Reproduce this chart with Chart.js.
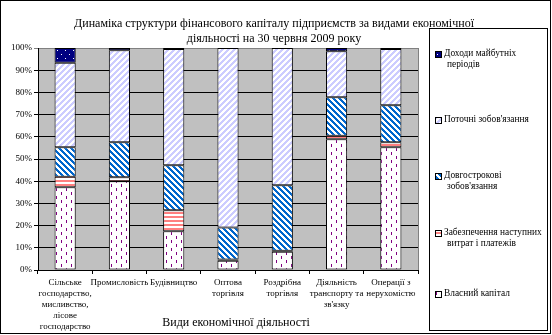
<!DOCTYPE html>
<html>
<head>
<meta charset="utf-8">
<title>Динаміка структури фінансового капіталу</title>
<script src="https://cdn.jsdelivr.net/npm/chart.js@4.4.0/dist/chart.umd.min.js"></script>
<style>
  html, body { margin: 0; padding: 0; background: #fff; }
  #wrap { width: 552px; height: 335px; position: relative; }
</style>
</head>
<body>
<div id="wrap"><canvas id="chart" width="552" height="335"></canvas></div>
<script>
// Дані (у відсотках від загального капіталу)
const categories = [
    ['Сільське', 'господарство,', 'мисливство,', 'лісове', 'господарство'],
    ['Промисловість'],
    ['Будівництво'],
    ['Оптова', 'торгівля'],
    ['Роздрібна', 'торгівля'],
    ['Діяльність', 'транспорту та', "зв'язку"],
    ['Операції з', 'нерухомістю']
];
const equity     = [37.3, 40.0, 17.4, 4.2, 8.2, 58.9, 55.3];
const provisions = [4.7, 1.8, 9.5, 0.5, 0.5, 1.6, 2.2];
const longTerm   = [13.3, 15.7, 20.3, 14.5, 29.5, 17.3, 16.7];
const current    = [38.1, 41.5, 52.3, 80.8, 61.8, 20.7, 25.3];
const deferred   = [6.6, 1.0, 0.5, 0, 0, 1.5, 0.5];
const yTicks     = [0, 10, 20, 30, 40, 50, 60, 70, 80, 90, 100];

const seriesNames = [
    'Власний капітал',
    'Забезпечення наступних витрат і платежів',
    'Довгострокові зобов\'язання',
    'Поточні зобов\'язання',
    'Доходи майбутніх періодів'
];

const SERIF = '"Liberation Serif", "Times New Roman", serif';

/**
 * Створює піксельний візерунок (як заливки в Excel)
 */
function makePattern(w, h, bg, fg, test) {
    const c = document.createElement('canvas');
    c.width = w;
    c.height = h;
    const g = c.getContext('2d');
    g.fillStyle = bg;
    g.fillRect(0, 0, w, h);
    g.fillStyle = fg;
    for (let y = 0; y < h; y++) {
        for (let x = 0; x < w; x++) {
            if (test(x, y)) g.fillRect(x, y, 1, 1);
        }
    }
    return document.getElementById('chart').getContext('2d').createPattern(c, 'repeat');
}

const fills = [
    makePattern(10, 8, '#fff', '#800080', (x, y) => (x === 1 && y < 3) || (x === 6 && y >= 4 && y < 7)),
    makePattern(4, 4, '#fff', '#FF8080', (x, y) => y < 2),
    makePattern(6, 6, '#fff', '#0066CC', (x, y) => ((x - y) % 6 + 6) % 6 < 3),
    makePattern(6, 6, '#fff', '#CCCCFF', (x, y) => (x + y) % 6 < 3),
    makePattern(8, 8, '#000080', '#fff', (x, y) => (x === 1 && y === 2) || (x === 5 && y === 6))
];

const values = [equity, provisions, longTerm, current, deferred];

const datasets = values.map((data, i) => ({
    label: seriesNames[i],
    data: data,
    backgroundColor: fills[i],
    borderColor: '#000',
    borderWidth: 1,
    borderSkipped: false,
    barPercentage: 0.39,
    categoryPercentage: 1
}));

// Малює фон, заголовок, легенду та підпис осі
const decorPlugin = {
    id: 'decor',
    beforeDraw(chart) {
        const ctx = chart.ctx;
        const a = chart.chartArea;
        ctx.save();
        ctx.fillStyle = '#fff';
        ctx.fillRect(0, 0, chart.width, chart.height);
        ctx.fillStyle = '#C0C0C0';
        ctx.fillRect(a.left, a.top, a.right - a.left, a.bottom - a.top);
        ctx.restore();
    },
    afterDraw(chart) {
        const ctx = chart.ctx;
        const a = chart.chartArea;
        ctx.save();

        // рамка області побудови справа
        ctx.strokeStyle = '#808080';
        ctx.lineWidth = 1;
        ctx.beginPath();
        ctx.moveTo(a.right + 0.5, a.top);
        ctx.lineTo(a.right + 0.5, a.bottom);
        ctx.stroke();

        // заголовок
        ctx.fillStyle = '#000';
        ctx.font = '12px ' + SERIF;
        ctx.textAlign = 'center';
        ctx.textBaseline = 'middle';
        ctx.fillText('Динаміка структури фінансового капіталу підприємств за видами економічної', 274, 24);
        ctx.fillText('діяльності на 30 червня 2009 року', 274, 39);

        // назва осі X
        ctx.font = '12px ' + SERIF;
        ctx.fillText('Види економічної діяльності', 236, 323);

        // легенда
        ctx.strokeStyle = '#000';
        ctx.strokeRect(429.5, 28.5, 118, 302);
        const legendRows = [
            { ds: 4, lines: ['Доходи майбутніх', 'періодів'], y: 54 },
            { ds: 3, lines: ['Поточні зобов\'язання'], y: 120 },
            { ds: 2, lines: ['Довгострокові', 'зобов\'язання'], y: 176 },
            { ds: 1, lines: ['Забезпечення наступних', 'витрат і платежів'], y: 233 },
            { ds: 0, lines: ['Власний капітал'], y: 294 }
        ];
        ctx.font = '9.4px ' + SERIF;
        ctx.textAlign = 'left';
        legendRows.forEach(row => {
            const d = chart.data.datasets[row.ds];
            ctx.fillStyle = d.backgroundColor;
            ctx.fillRect(435, row.y - 3, 7, 7);
            ctx.strokeStyle = '#000';
            ctx.strokeRect(435.5, row.y - 3 + 0.5, 6, 6);
            ctx.fillStyle = '#000';
            row.lines.forEach((t, k) => {
                ctx.fillText(t, k === 0 ? 444 : 447, row.y + k * 11);
            });
        });

        // зовнішня рамка
        ctx.strokeStyle = '#000';
        ctx.strokeRect(0.5, 0.5, chart.width - 2, chart.height - 2);
        ctx.restore();
    }
};

new Chart(document.getElementById('chart'), {
    type: 'bar',
    data: {
        labels: categories,
        datasets: datasets
    },
    options: {
        responsive: false,
        animation: false,
        devicePixelRatio: 1,
        layout: {
            padding: { left: 0, top: 48, right: 134, bottom: 0 }
        },
        plugins: {
            legend: { display: false },
            title: { display: false },
            tooltip: { enabled: false }
        },
        scales: {
            x: {
                stacked: true,
                afterFit(scale) { scale.height = 65; },
                border: { color: '#000' },
                grid: {
                    offset: true,
                    drawOnChartArea: false,
                    tickLength: 4,
                    color: '#000'
                },
                ticks: {
                    autoSkip: false,
                    maxRotation: 0,
                    padding: 3,
                    color: '#000',
                    font: { family: SERIF, size: 9, lineHeight: 1.22 }
                }
            },
            y: {
                stacked: true,
                min: 0,
                max: 100,
                afterFit(scale) { scale.width = 38; },
                afterBuildTicks(scale) {
                    scale.ticks = yTicks.map(v => ({ value: v }));
                },
                border: { color: '#000' },
                grid: {
                    color: c => (c.tick && c.tick.value === 100 ? '#808080' : '#000'),
                    tickLength: 4
                },
                ticks: {
                    padding: 2,
                    color: '#000',
                    font: { family: SERIF, size: 9 },
                    callback: v => v + '%'
                }
            }
        }
    },
    plugins: [decorPlugin]
});
</script>
</body>
</html>
